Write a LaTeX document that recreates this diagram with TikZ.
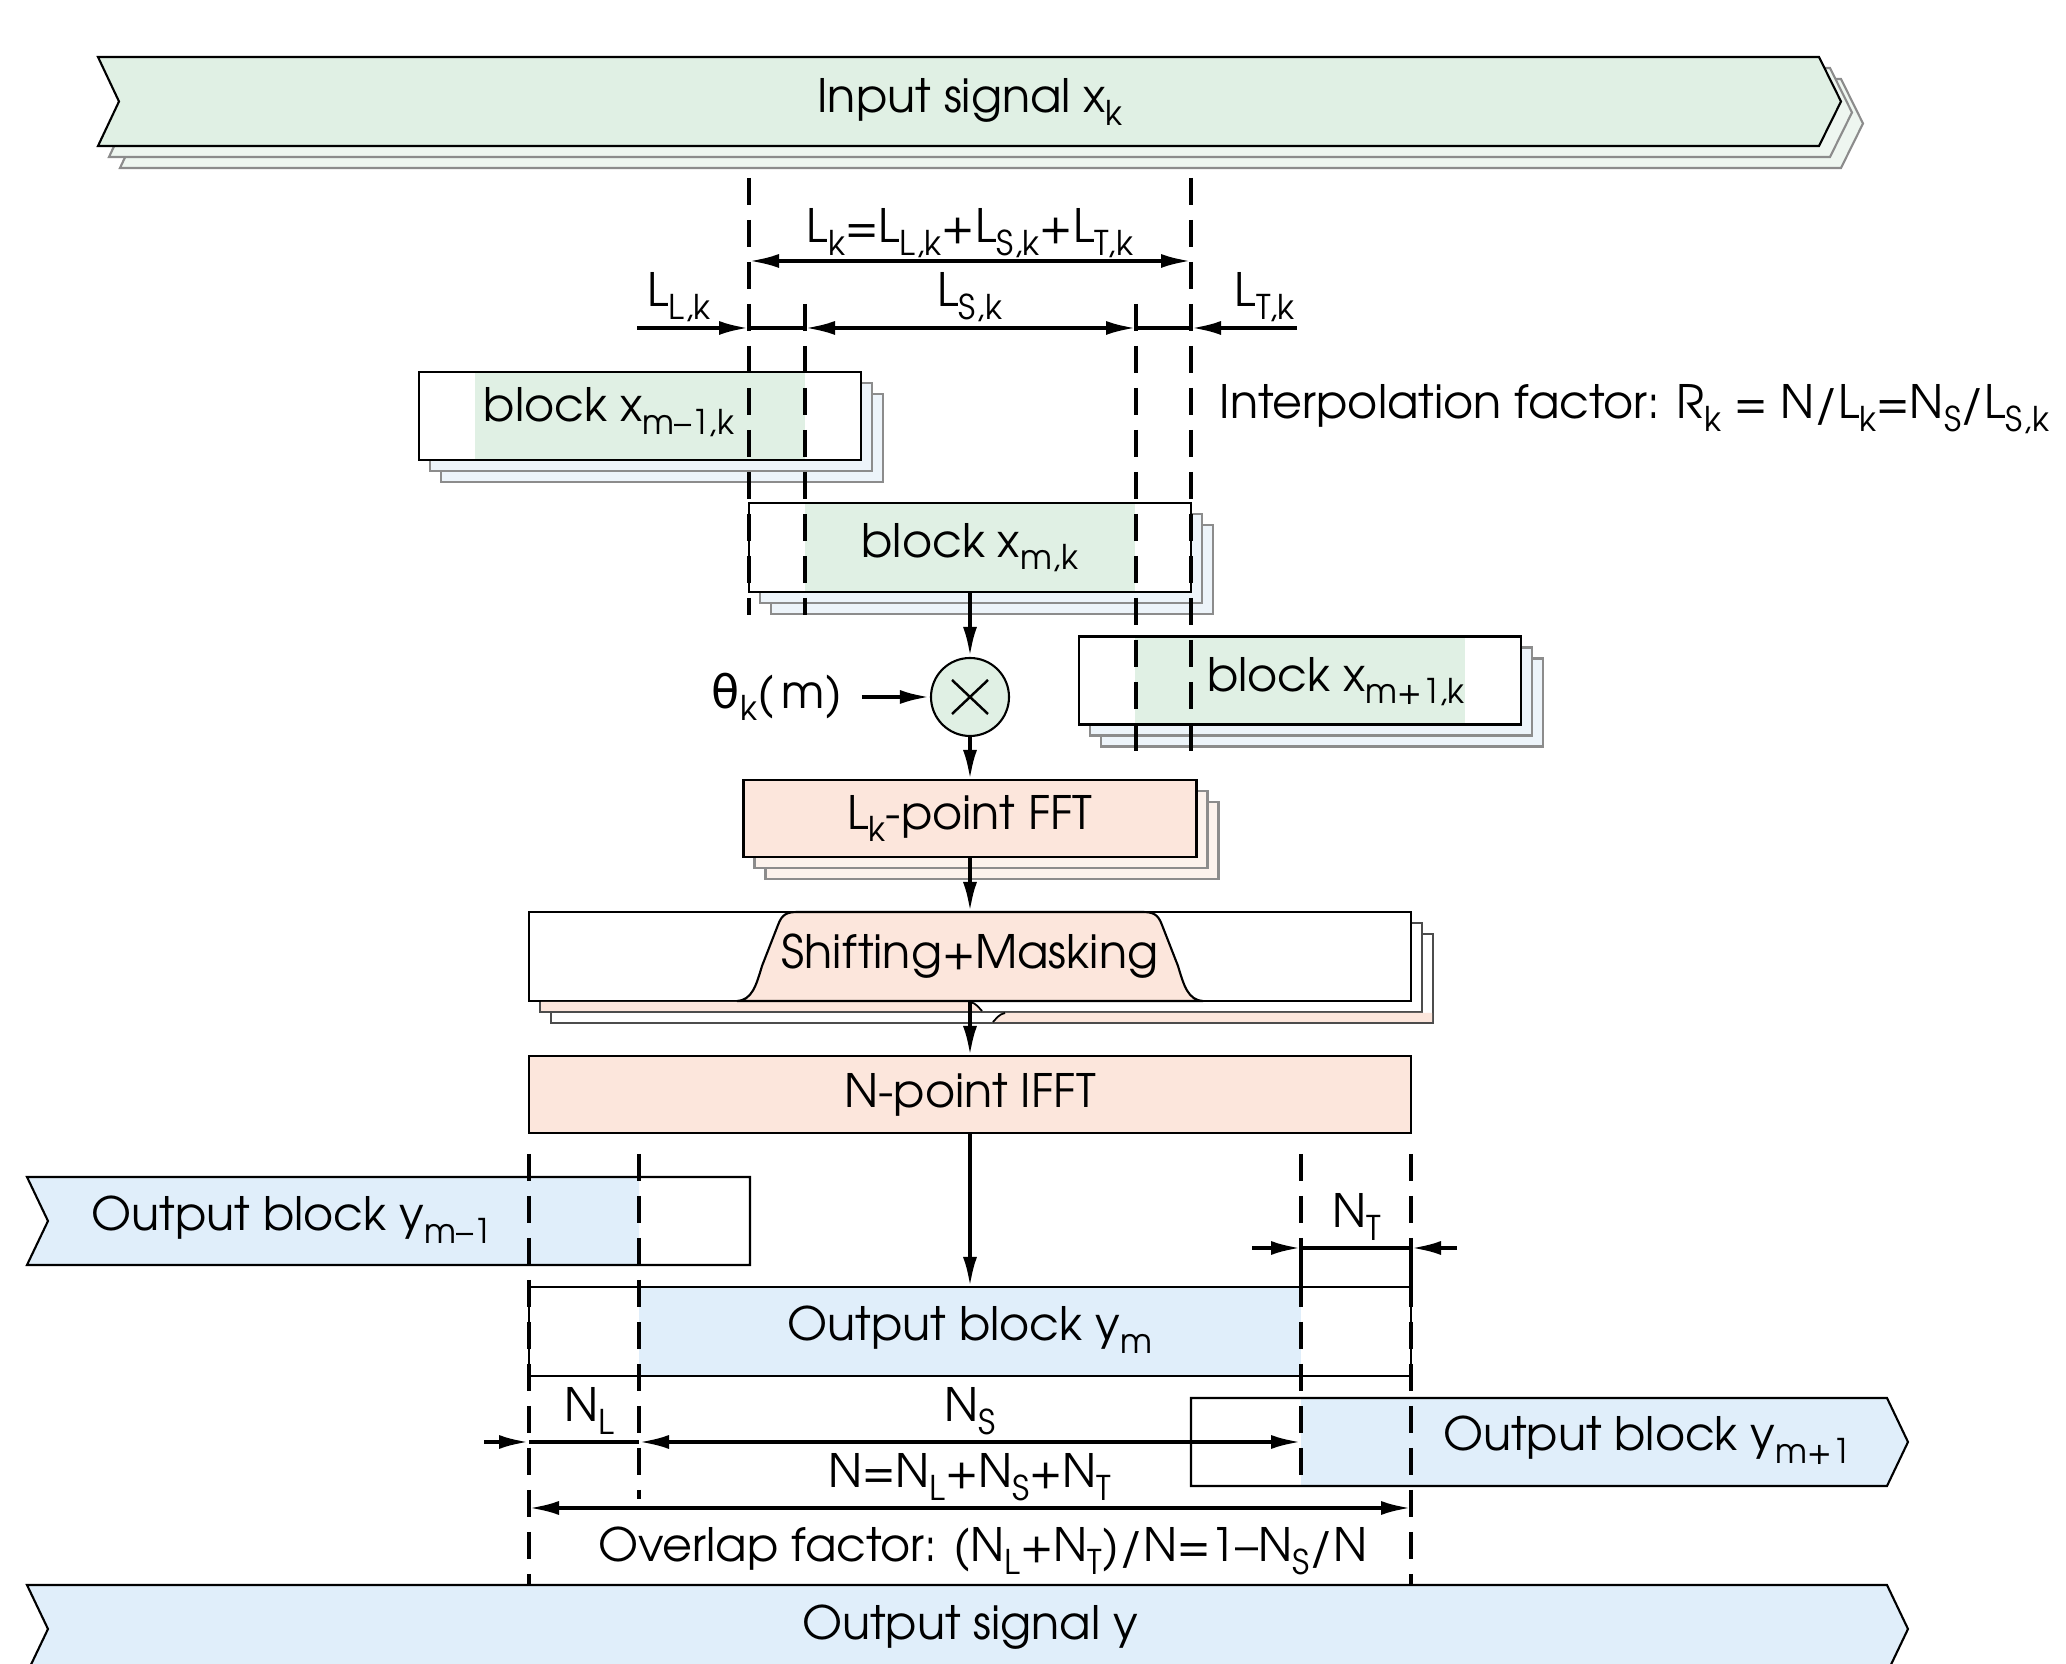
\documentclass[tikz,border=0pt]{standalone}
\usepackage{fontspec}
\IfFontExistsTF{TeX Gyre Adventor}{\setmainfont{TeX Gyre Adventor}}{\setmainfont{TeX Gyre Heros}}
\newfontfamily\greekfont{DejaVu Sans}
\usetikzlibrary{arrows.meta, shadows}

\definecolor{ingreen}{RGB}{224,240,228}
\definecolor{ingreenshade}{RGB}{238,246,240}
\definecolor{blockshade}{RGB}{237,244,250}
\definecolor{fftpink}{RGB}{252,230,220}
\definecolor{fftshade}{RGB}{252,242,236}
\definecolor{outblue}{RGB}{224,238,250}
\definecolor{shadowgray}{RGB}{140,140,140}

\newcommand{\idx}[1]{\raisebox{-0.27em}{\fontsize{9.7}{10}\selectfont #1}}

\tikzset{
  arr/.style={-{Latex[length=0.30cm, width=0.14cm]}, line width=1.15pt},
  dimarr/.style={{Latex[length=0.30cm, width=0.14cm]}-{Latex[length=0.30cm, width=0.14cm]}, line width=1.1pt},
  guide/.style={dash pattern=on 0.27cm off 0.15cm, line width=1pt},
  twoshadows/.style={
    copy shadow={shadow xshift=0.22cm, shadow yshift=-0.22cm, fill=#1, draw=shadowgray, line width=0.6pt},
    copy shadow={shadow xshift=0.11cm, shadow yshift=-0.11cm, fill=#1, draw=shadowgray, line width=0.6pt}},
  xblock/.style={rectangle, draw=black, line width=0.6pt, fill=white,
    minimum width=4.42cm, minimum height=0.88cm, inner sep=0, outer sep=0,
    twoshadows=blockshade},
  procbox/.style={rectangle, draw=black, line width=0.6pt, outer sep=0,
    minimum width=8.82cm, minimum height=0.77cm},
}

\begin{document}
\begin{tikzpicture}[font=\fontsize{13.1}{15}\selectfont]
  \useasboundingbox (0,0) rectangle (20.66,-16.64);
  \fill[white] (0,0) rectangle (20.66,-16.64);

  \path[draw=black, fill=ingreen, line width=0.6pt, twoshadows=ingreenshade]
    (0.98,-0.57) -- (18.19,-0.57) -- (18.41,-1.015) -- (18.19,-1.46)
    -- (0.98,-1.46) -- (1.19,-1.015) -- cycle;
  \node[anchor=base] (in-text) at (9.70,-1.13) {Input signal x\idx{k}};

  \node[xblock, minimum height=0.89cm] (xm) at (9.70,-5.475) {};
  \node[xblock] (xm1) at ([xshift=-3.30cm, yshift=1.315cm]xm.center) {};
  \node[xblock] (xp1) at ([xshift=3.30cm, yshift=-1.33cm]xm.center) {};

  \fill[ingreen] ([xshift=0.56cm, yshift=0.3pt]xm1.south west) rectangle ([xshift=-0.56cm, yshift=-0.3pt]xm1.north east);
  \fill[ingreen] ([xshift=0.56cm, yshift=0.3pt]xm.south west) rectangle ([xshift=-0.56cm, yshift=-0.3pt]xm.north east);
  \fill[ingreen] ([xshift=0.56cm, yshift=0.3pt]xp1.south west) rectangle ([xshift=-0.56cm, yshift=-0.3pt]xp1.north east);

  \node[anchor=base] (xm1-text) at ([xshift=-0.31cm, yshift=-0.06cm]xm1.center) {block x\idx{m–1,k}};
  \node[anchor=base] (xm-text) at ([yshift=-0.10cm]xm.center) {block x\idx{m,k}};
  \node[anchor=base] (xp1-text) at ([xshift=0.36cm, yshift=-0.11cm]xp1.center) {block x\idx{m+1,k}};

  \node[anchor=base] (lk-label) at ([yshift=2.60cm]xm.north) {L\idx{k}=L\idx{L,k}+L\idx{S,k}+L\idx{T,k}};
  \node[anchor=base] (ll-label) at ([xshift=-0.70cm, yshift=1.96cm]xm.north west) {L\idx{L,k}};
  \node[anchor=base] (ls-label) at ([yshift=1.96cm]xm.north) {L\idx{S,k}};
  \node[anchor=base] (lt-label) at ([xshift=0.74cm, yshift=1.96cm]xm.north east) {L\idx{T,k}};
  \node[anchor=base west, inner sep=0] (rk-label) at ([xshift=0.28cm, yshift=0.84cm]xm.north east)
    {Interpolation factor: R\idx{k} = N/L\idx{k}=N\idx{S}/L\idx{S,k}};

  \draw[dimarr] ([yshift=2.42cm]xm.north west) -- ([yshift=2.42cm]xm.north east);
  \draw[arr] ([xshift=-1.12cm, yshift=1.75cm]xm.north west) -- ([yshift=1.75cm]xm.north west);
  \draw[line width=1.1pt] ([yshift=1.75cm]xm.north west) -- ([xshift=0.56cm, yshift=1.75cm]xm.north west);
  \draw[dimarr] ([xshift=0.56cm, yshift=1.75cm]xm.north west) -- ([xshift=-0.55cm, yshift=1.75cm]xm.north east);
  \draw[line width=1.1pt] ([xshift=-0.55cm, yshift=1.75cm]xm.north east) -- ([yshift=1.75cm]xm.north east);
  \draw[arr] ([xshift=1.06cm, yshift=1.75cm]xm.north east) -- ([yshift=1.75cm]xm.north east);

  \node[circle, draw=black, fill=ingreen, line width=0.6pt,
    minimum size=0.78cm, inner sep=0] (mult) at ([yshift=-1.05cm]xm.south) {};
  \draw[line width=0.7pt] ([shift={(-0.18,-0.17)}]mult.center) -- ([shift={(0.18,0.17)}]mult.center);
  \draw[line width=0.7pt] ([shift={(-0.18,0.17)}]mult.center) -- ([shift={(0.18,-0.17)}]mult.center);
  \node (theta) at ([xshift=-1.93cm]mult.center) {{\greekfont θ}\idx{k}(\,m)};

  \node[procbox, fill=fftpink, twoshadows=fftshade,
    minimum width=4.53cm] (fft) at ([yshift=-1.215cm]mult.center) {L\idx{k}-point FFT};

  \node[procbox, fill=white, minimum height=0.89cm,
    copy shadow={shadow xshift=0.22cm, shadow yshift=-0.22cm, fill=white, draw=black!70, line width=0.6pt},
    copy shadow={shadow xshift=0.11cm, shadow yshift=-0.11cm, fill=white, draw=black!70, line width=0.6pt}]
    (shift) at ([yshift=-1.38cm]fft.center) {};
  \fill[fftpink] (5.41,-10.02) -- (9.70,-10.02) .. controls (9.76,-10.03) and (9.79,-10.08) .. (9.82,-10.11) -- (5.41,-10.11) -- cycle;
  \draw[line width=0.5pt] (9.70,-10.02) .. controls (9.76,-10.03) and (9.79,-10.08) .. (9.82,-10.11);
  \fill[fftpink] (9.93,-10.22) .. controls (9.96,-10.19) and (9.99,-10.14) .. (10.05,-10.13) -- (14.32,-10.13) -- (14.32,-10.22) -- cycle;
  \draw[line width=0.5pt] (9.93,-10.22) .. controls (9.96,-10.19) and (9.99,-10.14) .. (10.05,-10.13);
  \filldraw[fill=fftpink, line width=0.6pt] (7.37,-10.01)
    .. controls (7.52,-10.00) and (7.56,-9.86) .. (7.62,-9.66) -- (7.78,-9.25)
    .. controls (7.82,-9.14) and (7.87,-9.12) .. (7.98,-9.12) -- (11.42,-9.12)
    .. controls (11.53,-9.12) and (11.58,-9.14) .. (11.62,-9.25) -- (11.78,-9.66)
    .. controls (11.84,-9.86) and (11.88,-10.00) .. (12.03,-10.01) -- cycle;
  \node (shift-text) at (shift.center) {Shifting+Masking};

  \node[procbox, fill=fftpink] (ifft) at ([yshift=-1.38cm]shift.center) {N-point IFFT};

  \node[procbox, fill=white, minimum height=0.89cm] (ym) at ([yshift=-2.37cm]ifft.center) {};
  \fill[outblue] ([xshift=1.10cm, yshift=0.3pt]ym.south west) rectangle ([xshift=-1.10cm, yshift=-0.3pt]ym.north east);
  \node[anchor=base] (ym-text) at ([yshift=-0.095cm]ym.center) {Output block y\idx{m}};

  \fill[outblue] (0.27,-11.77) -- (6.39,-11.77) -- (6.39,-12.65) -- (0.27,-12.65) -- (0.48,-12.21) -- cycle;
  \draw[line width=0.6pt] (0.27,-11.77) -- (7.50,-11.77) -- (7.50,-12.65) -- (0.27,-12.65) -- (0.48,-12.21) -- cycle;
  \node[anchor=base] (ym1-text) at (2.92,-12.31) {Output block y\idx{m–1}};

  \fill[outblue] (13.01,-13.98) -- (18.87,-13.98) -- (19.08,-14.42) -- (18.87,-14.86) -- (13.01,-14.86) -- cycle;
  \draw[line width=0.6pt] (11.91,-13.98) -- (18.87,-13.98) -- (19.08,-14.42) -- (18.87,-14.86) -- (11.91,-14.86) -- cycle;
  \node[anchor=base] (yp1-text) at (16.47,-14.51) {Output block y\idx{m+1}};

  \filldraw[fill=outblue, line width=0.6pt] (0.27,-15.85) -- (18.87,-15.85) -- (19.08,-16.29)
    -- (18.87,-16.73) -- (0.27,-16.73) -- (0.48,-16.29) -- cycle;
  \node[anchor=base] (ysig-text) at (9.70,-16.40) {Output signal y};

  \draw[guide] ([yshift=3.25cm]xm.north west) -- ([yshift=-0.23cm]xm.south west);
  \draw[guide] ([xshift=0.56cm, yshift=1.99cm]xm.north west) -- ([xshift=0.56cm, yshift=-0.23cm]xm.south west);
  \draw[guide] ([xshift=-0.55cm, yshift=1.99cm]xm.north east) -- ([xshift=-0.55cm, yshift=-1.71cm]xm.south east);
  \draw[guide] ([yshift=3.25cm]xm.north east) -- ([yshift=-1.71cm]xm.south east);

  \draw[guide] ([yshift=1.33cm]ym.north west) -- ([yshift=-2.09cm]ym.south west);
  \draw[guide] ([xshift=1.10cm, yshift=1.33cm]ym.north west) -- ([xshift=1.10cm, yshift=-1.23cm]ym.south west);
  \draw[guide] ([xshift=-1.10cm, yshift=1.33cm]ym.north east) -- ([xshift=-1.10cm, yshift=-1.11cm]ym.south east);
  \draw[guide] ([yshift=1.33cm]ym.north east) -- ([yshift=-2.09cm]ym.south east);

  \draw[line width=1.1pt] ([xshift=-1.10cm, yshift=0.07cm]ym.north east) -- ([xshift=-1.10cm, yshift=0.39cm]ym.north east)
    -- ([yshift=0.39cm]ym.north east) -- ([yshift=0.07cm]ym.north east);
  \draw[arr] ([xshift=-1.59cm, yshift=0.39cm]ym.north east) -- ([xshift=-1.10cm, yshift=0.39cm]ym.north east);
  \draw[arr] ([xshift=0.46cm, yshift=0.39cm]ym.north east) -- ([yshift=0.39cm]ym.north east);
  \node[anchor=base] (nt-label) at ([xshift=-0.54cm, yshift=0.59cm]ym.north east) {N\idx{T}};

  \draw[arr] ([xshift=-0.45cm, yshift=-0.66cm]ym.south west) -- ([yshift=-0.66cm]ym.south west);
  \draw[line width=1.1pt] ([yshift=-0.66cm]ym.south west) -- ([xshift=1.10cm, yshift=-0.66cm]ym.south west);
  \draw[dimarr] ([xshift=1.10cm, yshift=-0.66cm]ym.south west) -- ([xshift=-1.10cm, yshift=-0.66cm]ym.south east);
  \node[anchor=base] (nl-label) at ([xshift=0.60cm, yshift=-0.46cm]ym.south west) {N\idx{L}};
  \node[anchor=base] (ns-label) at ([yshift=-0.46cm]ym.south) {N\idx{S}};
  \node[anchor=base] (n-label) at ([yshift=-1.12cm]ym.south) {N=N\idx{L}+N\idx{S}+N\idx{T}};
  \draw[dimarr] ([yshift=-1.32cm]ym.south west) -- ([yshift=-1.32cm]ym.south east);
  \node[anchor=base] (ov-label) at ([xshift=0.13cm, yshift=-1.86cm]ym.south) {Overlap factor: (N\idx{L}+N\idx{T})/N=1–N\idx{S}/N};

  \draw[arr] (xm.south) -- (mult.north);
  \draw[arr] ([xshift=-0.68cm]mult.west) -- (mult.west);
  \draw[arr] (mult.south) -- (fft.north);
  \draw[arr] (fft.south) -- (shift.north);
  \draw[arr] (shift.south) -- (ifft.north);
  \draw[arr] (ifft.south) -- (ym.north);
\end{tikzpicture}
\end{document}
